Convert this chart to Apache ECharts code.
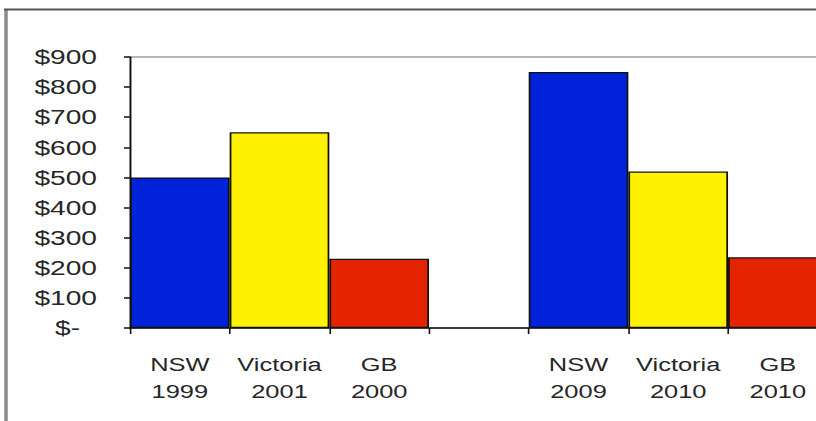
<!DOCTYPE html>
<html>
<head>
<meta charset="utf-8">
<script src="https://cdn.jsdelivr.net/npm/echarts@6/dist/echarts.min.js"></script>
<style>
  html, body { margin: 0; padding: 0; background: #fff; overflow: hidden; width: 816px; height: 421px; }
  /* The chart is laid out narrow and widened horizontally, giving the wide lettering;
     its right end runs past the window edge */
  #chart { width: 620px; height: 421px; transform: scaleX(1.3399); transform-origin: 0 0; }
</style>
</head>
<body>
<div id="chart"></div>
<script>
// Categories: state and year, with an empty slot separating the two periods
const categories = ['NSW\n1999', 'Victoria\n2001', 'GB\n2000', '', 'NSW\n2009', 'Victoria\n2010', 'GB\n2010'];
const values = [500, 650, 230, null, 850, 520, 235];
const yTicks = { min: 0, max: 900, step: 100 };

// Bar fills by position
const barColors = ['#0022d8', '#fff200', '#e42300', '#ffffff', '#0022d8', '#fff200', '#e42300'];

const SX = 816 / 609;              // horizontal stretch applied by CSS
const px = v => v / SX;            // screen x-distance -> layout units
const W = 620;                     // layout width of the chart box

const chart = echarts.init(document.getElementById('chart'), null, { renderer: 'svg' });

chart.setOption({
  animation: false,
  backgroundColor: '#ffffff',
  textStyle: { fontFamily: 'Liberation Sans, Arial, sans-serif' },
  grid: {
    left: px(130), top: 57, right: W - px(130) - px(697.7), height: 271,
    show: true, borderColor: '#a0a0a0', borderWidth: 1.5, backgroundColor: 'transparent'
  },
  graphic: [
    { type: 'line', shape: { x1: px(6), y1: 9, x2: px(6), y2: 421 },
      style: { stroke: '#8c8c8c', lineWidth: px(3.5) } },
    { type: 'line', shape: { x1: px(4), y1: 9.5, x2: W, y2: 9.5 },
      style: { stroke: '#555555', lineWidth: 2 } }
  ],
  xAxis: {
    type: 'category',
    data: categories,
    boundaryGap: true,
    axisLine: { lineStyle: { color: '#111', width: 1.5 } },
    axisTick: { show: true, length: 6, lineStyle: { color: '#111', width: 1.2 } },
    axisLabel: {
      color: '#262626', fontSize: 19, lineHeight: 27, margin: 23, interval: 0,
      align: 'center'
    }
  },
  yAxis: {
    type: 'value',
    min: yTicks.min, max: yTicks.max, interval: yTicks.step,
    splitLine: { show: false },
    axisLine: { show: true, lineStyle: { color: '#111', width: 1.2 } },
    axisTick: { show: true, length: px(6), lineStyle: { color: '#111', width: 1.5 } },
    axisLabel: {
      color: '#262626', fontSize: 21, margin: px(33),
      formatter: v => v === 0 ? '{z|$-}' : '$' + v,
      rich: { z: { fontSize: 21, color: '#262626', padding: [0, px(17), 0, 0] } }
    }
  },
  series: [{
    type: 'bar',
    barWidth: '100%',
    barCategoryGap: 0,
    data: values.map((v, i) => ({
      value: v,
      itemStyle: { color: barColors[i], borderColor: '#111', borderWidth: 1.3 }
    }))
  }]
});
</script>
</body>
</html>
